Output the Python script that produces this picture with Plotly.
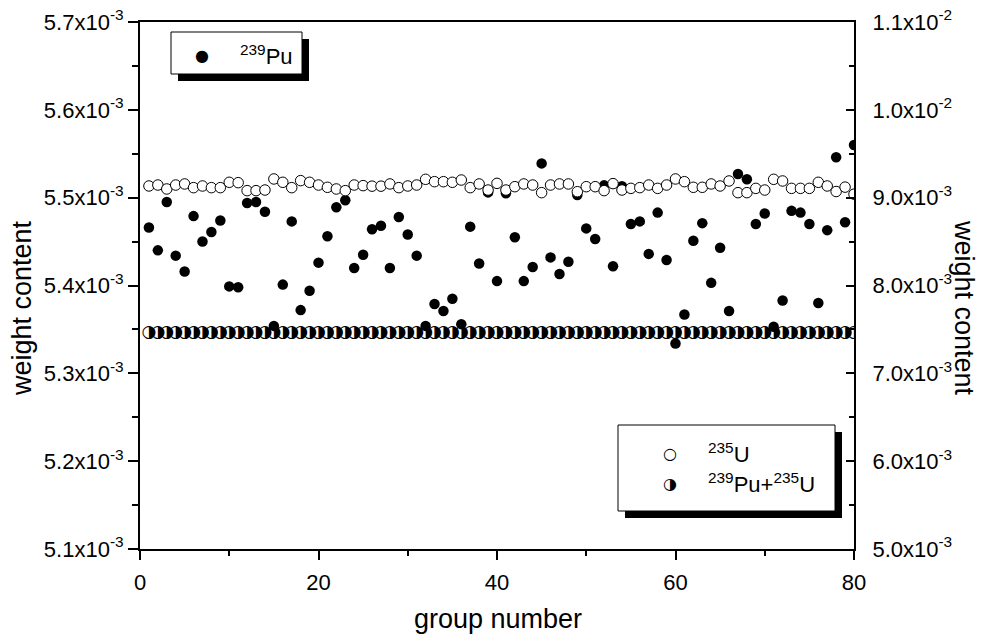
import plotly.graph_objects as go

# group index on the x axis
group = list(range(1, 81))

# 239Pu weight content (left axis), in units of 1e-3
pu239_e3 = [
    5.466, 5.440, 5.495, 5.434, 5.416, 5.479, 5.450, 5.461, 5.474, 5.399,
    5.398, 5.494, 5.495, 5.484, 5.354, 5.401, 5.473, 5.372, 5.394, 5.426,
    5.456, 5.489, 5.497, 5.420, 5.435, 5.464, 5.468, 5.420, 5.478, 5.458,
    5.434, 5.354, 5.379, 5.371, 5.385, 5.356, 5.467, 5.425, 5.506, 5.405,
    5.505, 5.455, 5.405, 5.421, 5.539, 5.432, 5.413, 5.427, 5.503, 5.465,
    5.453, 5.514, 5.422, 5.513, 5.470, 5.473, 5.436, 5.483, 5.429, 5.334,
    5.367, 5.451, 5.471, 5.403, 5.443, 5.371, 5.527, 5.521, 5.470, 5.482,
    5.353, 5.383, 5.485, 5.483, 5.470, 5.380, 5.463, 5.546, 5.472, 5.560,
]

# 235U weight content (right axis), in units of 1e-3
u235_e3 = [
    9.133, 9.144, 9.099, 9.144, 9.156, 9.114, 9.133, 9.114, 9.114, 9.175,
    9.171, 9.080, 9.080, 9.087, 9.213, 9.175, 9.114, 9.194, 9.175, 9.144,
    9.118, 9.099, 9.080, 9.144, 9.137, 9.131, 9.131, 9.156, 9.114, 9.133,
    9.144, 9.209, 9.182, 9.182, 9.175, 9.201, 9.114, 9.156, 9.087, 9.163,
    9.087, 9.125, 9.156, 9.144, 9.057, 9.144, 9.156, 9.156, 9.068, 9.125,
    9.125, 9.080, 9.160, 9.087, 9.106, 9.114, 9.144, 9.106, 9.144, 9.213,
    9.182, 9.118, 9.118, 9.156, 9.133, 9.190, 9.057, 9.057, 9.106, 9.087,
    9.209, 9.190, 9.106, 9.106, 9.106, 9.175, 9.133, 9.070, 9.120, 9.040,
]

# 239Pu+235U weight content (right axis), in units of 1e-3
pu_u_e3 = [
    7.46, 7.46, 7.46, 7.46, 7.46, 7.46, 7.46, 7.46, 7.46, 7.46,
    7.46, 7.46, 7.46, 7.46, 7.46, 7.46, 7.46, 7.46, 7.46, 7.46,
    7.46, 7.46, 7.46, 7.46, 7.46, 7.46, 7.46, 7.46, 7.46, 7.46,
    7.46, 7.46, 7.46, 7.46, 7.46, 7.46, 7.46, 7.46, 7.46, 7.46,
    7.46, 7.46, 7.46, 7.46, 7.46, 7.46, 7.46, 7.46, 7.46, 7.46,
    7.46, 7.46, 7.46, 7.46, 7.46, 7.46, 7.46, 7.46, 7.46, 7.46,
    7.46, 7.46, 7.46, 7.46, 7.46, 7.46, 7.46, 7.46, 7.46, 7.46,
    7.46, 7.46, 7.46, 7.46, 7.46, 7.46, 7.46, 7.46, 7.46, 7.46,
]

x_ticks = [0, 20, 40, 60, 80]
left_ticks = [5.1e-3, 5.2e-3, 5.3e-3, 5.4e-3, 5.5e-3, 5.6e-3, 5.7e-3]
left_labels = ["5.1x10<sup>-3</sup>", "5.2x10<sup>-3</sup>", "5.3x10<sup>-3</sup>",
               "5.4x10<sup>-3</sup>", "5.5x10<sup>-3</sup>", "5.6x10<sup>-3</sup>",
               "5.7x10<sup>-3</sup>"]
right_ticks = [5e-3, 6e-3, 7e-3, 8e-3, 9e-3, 1.0e-2, 1.1e-2]
right_labels = ["5.0x10<sup>-3</sup>", "6.0x10<sup>-3</sup>", "7.0x10<sup>-3</sup>",
                "8.0x10<sup>-3</sup>", "9.0x10<sup>-3</sup>", "1.0x10<sup>-2</sup>",
                "1.1x10<sup>-2</sup>"]

pu239 = [v * 1e-3 for v in pu239_e3]
u235 = [v * 1e-3 for v in u235_e3]
pu_u = [v * 1e-3 for v in pu_u_e3]

FONT = "Liberation Sans, Arial, sans-serif"
GLYPH_FONT = "DejaVu Sans"

fig = go.Figure()

fig.add_trace(go.Scatter(
    x=group, y=pu239, mode="markers", name="239Pu",
    marker=dict(symbol="circle", size=10.5, color="black", line=dict(width=0)),
    showlegend=False,
))
fig.add_trace(go.Scatter(
    x=group, y=u235, mode="markers", name="235U", yaxis="y2",
    marker=dict(symbol="circle", size=10.5, color="white",
                line=dict(color="black", width=1)),
    showlegend=False,
))
# half-filled circles drawn as the glyph U+25D1
fig.add_trace(go.Scatter(
    x=group, y=pu_u, mode="text", name="239Pu+235U", yaxis="y2",
    text=["\u25D1"] * len(group), textposition="middle center",
    textfont=dict(family=GLYPH_FONT, size=17, color="black"),
    showlegend=False,
))

# plot area in pixels
L, R, T, B = 140, 854, 22, 549
W_PX, H_PX = 981, 637


def px(xp):
    return (xp - L) / (R - L)


def py(yp):
    return (B - yp) / (B - T)


shapes = []
annotations = []


def legend_box(x0, y0, x1, y1, off=7):
    shapes.append(dict(type="rect", xref="paper", yref="paper",
                       x0=px(x0 + off), x1=px(x1 + off), y0=py(y1 + off), y1=py(y0 + off),
                       fillcolor="black", line=dict(width=0), layer="above"))
    shapes.append(dict(type="rect", xref="paper", yref="paper",
                       x0=px(x0), x1=px(x1), y0=py(y1), y1=py(y0),
                       fillcolor="white", line=dict(color="black", width=1), layer="above"))


def legend_entry(mx, my, glyph, label, gsize=16):
    annotations.append(dict(xref="paper", yref="paper", x=px(mx), y=py(my),
                            text=glyph, showarrow=False, xanchor="center", yanchor="middle",
                            font=dict(family=GLYPH_FONT, size=gsize, color="black")))
    annotations.append(dict(xref="paper", yref="paper", x=px(mx + 36), y=py(my),
                            text=label, showarrow=False, xanchor="left", yanchor="middle",
                            font=dict(family=FONT, size=22, color="black")))


legend_box(171, 32, 302, 74)
legend_entry(202, 55, "\u25CF", "<sup>239</sup>Pu")

legend_box(618, 425, 835, 511)
legend_entry(670, 453, "\u25CB", "<sup>235</sup>U")
legend_entry(670, 483, "\u25D1", "<sup>239</sup>Pu+<sup>235</sup>U")

# axis titles
annotations.append(dict(xref="paper", yref="paper", x=px(498), y=py(619),
                        text="group number", showarrow=False,
                        xanchor="center", yanchor="middle",
                        font=dict(family=FONT, size=27, color="black")))
annotations.append(dict(xref="paper", yref="paper", x=px(22), y=py(308),
                        text="weight content", showarrow=False, textangle=-90,
                        xanchor="center", yanchor="middle",
                        font=dict(family=FONT, size=27, color="black")))
annotations.append(dict(xref="paper", yref="paper", x=px(964), y=py(308),
                        text="weight content", showarrow=False, textangle=90,
                        xanchor="center", yanchor="middle",
                        font=dict(family=FONT, size=27, color="black")))

fig.update_layout(
    width=W_PX, height=H_PX,
    margin=dict(l=L, r=W_PX - R, t=T, b=H_PX - B, autoexpand=False),
    paper_bgcolor="white", plot_bgcolor="white",
    font=dict(family=FONT, size=22, color="black"),
    shapes=shapes, annotations=annotations,
    xaxis=dict(
        range=[0, 80], tickmode="array", tickvals=x_ticks,
        showline=True, linecolor="black", linewidth=2, mirror=True,
        ticks="outside", ticklen=9, tickwidth=1.5, tickcolor="black",
        ticklabelstandoff=4,
        showgrid=False, zeroline=False,
        tickfont=dict(family=FONT, size=22),
        minor=dict(tickmode="linear", tick0=0, dtick=10, ticks="outside",
                   ticklen=5, tickwidth=1.5, tickcolor="black", showgrid=False),
    ),
    yaxis=dict(
        range=[5.1e-3, 5.7e-3], tickmode="array", tickvals=left_ticks, ticktext=left_labels,
        showline=True, linecolor="black", linewidth=2,
        ticks="outside", ticklen=10, tickwidth=1.5, tickcolor="black",
        showgrid=False, zeroline=False,
        tickfont=dict(family=FONT, size=22),
        minor=dict(tickmode="linear", tick0=5.1e-3, dtick=0.05e-3, ticks="outside",
                   ticklen=6, tickwidth=1.5, tickcolor="black", showgrid=False),
    ),
    yaxis2=dict(
        range=[5e-3, 1.1e-2], overlaying="y", side="right",
        tickmode="array", tickvals=right_ticks, ticktext=right_labels,
        showline=True, linecolor="black", linewidth=2,
        ticks="inside", ticklen=8, tickwidth=1.5, tickcolor="black",
        ticklabelstandoff=12,
        showgrid=False, zeroline=False,
        tickfont=dict(family=FONT, size=22),
        minor=dict(tickmode="linear", tick0=5e-3, dtick=0.5e-3, ticks="inside",
                   ticklen=5, tickwidth=1.5, tickcolor="black", showgrid=False),
    ),
)

fig.write_html("out.html")
